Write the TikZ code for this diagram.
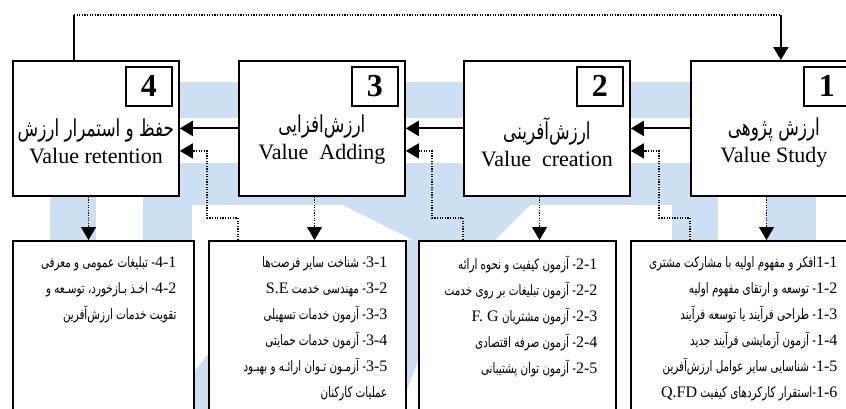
\documentclass[tikz,border=0pt]{standalone}
\usepackage{fontspec}
\setmainfont{Liberation Serif}
\newfontfamily\farsi[Script=Arabic,Scale=0.9,FakeStretch=0.72]{DejaVu Sans}
\usetikzlibrary{arrows.meta, positioning}
\usepackage{xcolor}
\TeXXeTstate=1
\definecolor{wmblue}{RGB}{205,223,242}
\newcommand{\en}[1]{\beginL{\rmfamily #1}\endL}
\newcommand{\fatitle}[1]{{\farsi\fontsize{13}{13.5}\selectfont\beginR #1\endR}}

\begin{document}
\begin{tikzpicture}[x=0.5pt,y=-0.5pt,>={Triangle[width=7.5pt,length=6.5pt]}]
    \tikzstyle{stage}=[draw, line width=0.9pt, fill=white, minimum width=83pt, minimum height=67.5pt, inner sep=0pt, anchor=north west]
    \tikzstyle{stage num}=[draw, line width=0.9pt, fill=white, minimum width=23pt, minimum height=19.5pt, inner sep=0pt, anchor=north east, font=\fontsize{16}{16}\selectfont\bfseries]
    \tikzstyle{stage title}=[align=center, inner sep=0pt, font=\fontsize{11}{13.5}\selectfont]
    \tikzstyle{tasks}=[draw, line width=0.9pt, fill=white, minimum height=90pt, inner sep=0pt, anchor=north west]
    \tikzstyle{task text}=[align=right, inner sep=0pt, anchor=north east, font=\farsi\fontsize{8}{13}\selectfont]
    \tikzstyle{flow}=[->, line width=1pt]
    \tikzstyle{feedback}=[->, line width=0.6pt, dash pattern=on 0.6pt off 0.7pt]
    \tikzstyle{link}=[line width=0.9pt]

    \clip (0,0) rectangle (846,408);

    % Watermark in the background
    \fill[wmblue] (50,82) rectangle (846,118);
    \fill[wmblue] (50,118) rectangle (96,410);
    \fill[wmblue] (143,163) rectangle (716,205);
    \fill[wmblue] (143,205) rectangle (192,410);
    \fill[wmblue] (343,205) -- (530,205) -- (495,240) -- (413,240) -- cycle;
    \fill[wmblue] (395,240) -- (430,240) -- (430,330) -- (405,395) -- (395,395) -- cycle;
    \fill[wmblue] (192,375) -- (215,345) -- (215,410) -- (192,410) -- cycle;
    \fill[wmblue] (672,163) rectangle (718,410);
    \fill[wmblue] (766,118) rectangle (816,410);

    % Draw the stage boxes
    \node[stage] (up4) at (12,60) {};
    \node[stage] (up3) at (238,60) {};
    \node[stage] (up2) at (463,60) {};
    \node[stage] (up1) at (690,60) {};
    \foreach \n in {1,...,4}
        \node[stage num] (num-\n) at ([xshift=-3.5pt,yshift=-3pt]up\n.north east) {\n};

    \node[stage title] (title4) at ([yshift=-6.25pt]up4.center) {\fatitle{حفظ و استمرار ارزش}\\Value retention};
    \node[stage title] (title3) at ([yshift=-5.5pt]up3.center) {\fatitle{ارزش‌افزایی}\\Value\ \ Adding};
    \node[stage title] (title2) at ([yshift=-7pt]up2.center) {\fatitle{ارزش‌آفرینی}\\Value\ \ creation};
    \node[stage title] (title1) at ([yshift=-7pt]up1.center) {\fatitle{ارزش پژوهی}\\Value Study};

    % Draw the task boxes
    \node[tasks, minimum width=90.5pt] (low4) at (12,240) {};
    \node[tasks, minimum width=98.5pt] (low3) at (208,240) {};
    \node[tasks, minimum width=98.5pt] (low2) at (418,240) {};
    \node[tasks, minimum width=112.5pt] (low1) at (630,240) {};

    \node[task text] (list4) at ([xshift=-9pt,yshift=-8pt]low4.north east) {%
        \beginR\en{4-1}- تبلیغات عمومی و معرفی\endR\\
        \beginR\en{4-2}- اخـذ بـازخورد، توسـعه و\endR\\
        \beginR تقویت خدمات ارزش‌آفرین\endR};
    \node[task text] (list3) at ([xshift=-9.5pt,yshift=-8pt]low3.north east) {%
        \beginR\en{3-1}- شناخت سایر فرصت‌ها\endR\\
        \beginR\en{3-2}- مهندسی خدمت \en{S.E}\endR\\
        \beginR\en{3-3}- آزمون خدمات تسهیلی\endR\\
        \beginR\en{3-4}- آزمون خدمات حمایتی\endR\\
        \beginR\en{3-5}- آزمـون تـوان ارائـه و بهبـود\endR\\
        \beginR عملیات کارکنان\endR};
    \node[task text] (list2) at ([xshift=-9.5pt,yshift=-8pt]low2.north east) {%
        \beginR\en{2-1}- آزمون کیفیت و نحوه ارائه\endR\\
        \beginR\en{2-2}- آزمون تبلیغات بر روی خدمت\endR\\
        \beginR\en{2-3}- آزمون مشتریان \en{F. G}\endR\\
        \beginR\en{2-4}- آزمون صرفه اقتصادی\endR\\
        \beginR\en{2-5}- آزمون توان پشتیبانی\endR};
    \node[task text] (list1) at ([xshift=-9.5pt,yshift=-8pt]low1.north east) {%
        \beginR\en{1-1}افکر و مفهوم اولیه با مشارکت مشتری\endR\\
        \beginR\en{1-2}- توسعه و ارتقای مفهوم اولیه\endR\\
        \beginR\en{1-3}- طراحی فرآیند یا توسعه فرآیند\endR\\
        \beginR\en{1-4}- آزمون آزمایشی فرآیند جدید\endR\\
        \beginR\en{1-5}- شناسایی سایر عوامل ارزش‌آفرین\endR\\
        \beginR\en{1-6}-استقرار کارکردهای کیفیت \en{Q.FD}\endR};

    % Connect the stages
    \draw[flow] (up1) -- (up2);
    \draw[flow] (up2) -- (up3);
    \draw[flow] (up3) -- (up4);

    % Stage to its tasks, and tasks back to the next stage
    \foreach \n in {1,...,4}
        \draw[feedback] ([xshift=-3.7pt]up\n.south) -- ([xshift=-3.7pt]up\n.south |- low\n.north);
    \foreach \s/\t in {3/4,2/3,1/2}
        \draw[feedback] (low\s.north -| up\s.west) |- ++(-31,-22) |- ([yshift=-11.25pt]up\t.east);

    % Back from the last stage to the first
    \draw[link] ([xshift=-11pt]up4.north) -- ++(0,-45) coordinate (top4);
    \path ([xshift=3.5pt]up1.north) coordinate (in1);
    \draw[line width=0.6pt, dash pattern=on 0.6pt off 0.7pt] (top4) -- (in1 |- top4);
    \draw[flow] (in1 |- top4) -- (in1);
\end{tikzpicture}
\end{document}
